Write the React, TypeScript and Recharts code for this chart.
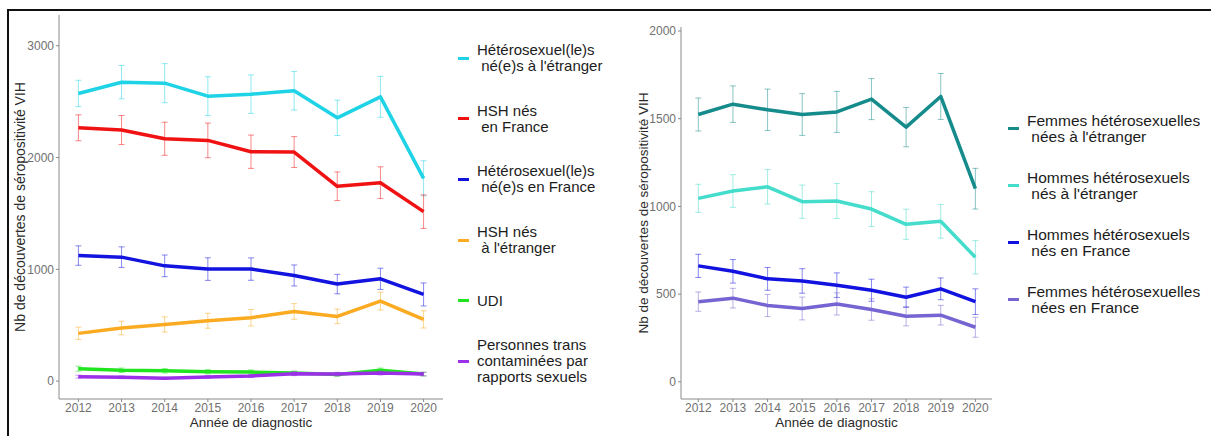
import { ErrorBar, Line, LineChart, XAxis, YAxis } from "recharts";

const years = [2012, 2013, 2014, 2015, 2016, 2017, 2018, 2019, 2020];

// panneau gauche : groupes de transmission
const heteroEtranger = [2573, 2674, 2665, 2549, 2567, 2597, 2355, 2543, 1814];
const heteroEtrangerErr = [118, 149, 175, 174, 172, 172, 158, 183, 157];
const hshFrance = [2266, 2246, 2168, 2153, 2052, 2049, 1743, 1775, 1516];
const hshFranceErr = [116, 130, 148, 155, 149, 138, 128, 142, 150];
const heteroFrance = [1123, 1109, 1031, 1002, 1002, 945, 868, 915, 775];
const heteroFranceErr = [87, 92, 97, 101, 100, 94, 87, 95, 103];
const hshEtranger = [427, 475, 507, 540, 567, 623, 579, 716, 552];
const hshEtrangerErr = [56, 61, 68, 67, 74, 70, 65, 80, 77];
const udi = [111, 97, 92, 84, 81, 72, 60, 97, 63];
const udiErr = [22, 20, 20, 19, 19, 18, 16, 20, 17];
const trans = [40, 34, 25, 37, 46, 66, 63, 72, 63];
const transErr = [13, 12, 10, 12, 14, 17, 16, 17, 16];

// panneau droit : hétérosexuels par sexe et pays de naissance
const femmesEtranger = [1524, 1583, 1551, 1524, 1539, 1612, 1452, 1627, 1101];
const femmesEtrangerErr = [94, 104, 118, 119, 117, 117, 112, 131, 116];
const hommesEtranger = [1046, 1088, 1112, 1027, 1031, 985, 898, 915, 710];
const hommesEtrangerErr = [80, 93, 98, 95, 100, 99, 86, 96, 95];
const hommesFrance = [661, 630, 587, 575, 551, 522, 482, 530, 457];
const hommesFranceErr = [66, 67, 65, 70, 70, 63, 58, 62, 73];
const femmesFrance = [457, 477, 435, 418, 444, 412, 374, 380, 311];
const femmesFranceErr = [55, 56, 63, 65, 63, 61, 55, 56, 57];

const leftTicks = [0, 1000, 2000, 3000];
const rightTicks = [0, 500, 1000, 1500, 2000];

const FONT = "'Liberation Sans', Arial, sans-serif";
const TICK = { fill: "#707070", fontSize: 12, fontFamily: FONT };
const AXIS = { stroke: "#8a8a8a", strokeWidth: 1 };
const Y_TITLE = "Nb de découvertes de séropositivité VIH";
const X_TITLE = "Année de diagnostic";

interface Serie {
  key: string;
  values: number[];
  err: number[];
  color: string;
  label: string[];
}

const leftSeries: Serie[] = [
  { key: "heteroEtranger", values: heteroEtranger, err: heteroEtrangerErr, color: "#1fd3e6", label: ["Hétérosexuel(le)s", " né(e)s à l'étranger"] },
  { key: "hshFrance", values: hshFrance, err: hshFranceErr, color: "#f01212", label: ["HSH nés", " en France"] },
  { key: "heteroFrance", values: heteroFrance, err: heteroFranceErr, color: "#1313e0", label: ["Hétérosexuel(le)s", " né(e)s en France"] },
  { key: "hshEtranger", values: hshEtranger, err: hshEtrangerErr, color: "#fbab22", label: ["HSH nés", " à l'étranger"] },
  { key: "udi", values: udi, err: udiErr, color: "#20e41e", label: ["UDI"] },
  { key: "trans", values: trans, err: transErr, color: "#9b30e8", label: ["Personnes trans", "contaminées par", "rapports sexuels"] },
];

const rightSeries: Serie[] = [
  { key: "femmesEtranger", values: femmesEtranger, err: femmesEtrangerErr, color: "#168b8b", label: ["Femmes hétérosexuelles", " nées à l'étranger"] },
  { key: "hommesEtranger", values: hommesEtranger, err: hommesEtrangerErr, color: "#44dccb", label: ["Hommes hétérosexuels", " nés à l'étranger"] },
  { key: "hommesFrance", values: hommesFrance, err: hommesFranceErr, color: "#1212e0", label: ["Hommes hétérosexuels", " nés en France"] },
  { key: "femmesFrance", values: femmesFrance, err: femmesFranceErr, color: "#7565d2", label: ["Femmes hétérosexuelles", " nées en France"] },
];

function buildRows(series: Serie[]) {
  return years.map((year, i) => {
    const row: Record<string, number> = { year };
    series.forEach((s) => {
      row[s.key] = s.values[i];
      row[s.key + "Err"] = s.err[i];
    });
    return row;
  });
}

function renderLines(series: Serie[]) {
  return series.map((s) => (
    <Line
      dataKey={s.key}
      dot={false}
      isAnimationActive={false}
      key={s.key}
      stroke={s.color}
      strokeLinejoin="round"
      strokeWidth={3.5}
      type="linear"
    >
      <ErrorBar dataKey={s.key + "Err"} stroke={s.color} strokeOpacity={0.5} strokeWidth={1} width={3} />
    </Line>
  ));
}

function LegendBlock({ series, left, top, itemHeight, fontSize }: { series: Serie[]; left: number; top: number; itemHeight: number; fontSize: number }) {
  return (
    <div style={{ position: "absolute", left, top, fontFamily: FONT, fontSize, color: "#1c1c1c" }}>
      {series.map((s) => (
        <div key={s.key} style={{ height: itemHeight, display: "flex", alignItems: "center" }}>
          <div style={{ width: 11, height: 3, background: s.color, marginRight: 8 }} />
          <div style={{ lineHeight: "16px", whiteSpace: "pre" }}>
            {s.label.map((line) => (
              <div key={line}>{line}</div>
            ))}
          </div>
        </div>
      ))}
    </div>
  );
}

export default function App() {
  const leftData = buildRows(leftSeries);
  const rightData = buildRows(rightSeries);

  return (
    <div style={{ position: "absolute", left: 0, top: 0, width: 1211, height: 436, background: "#fff", overflow: "hidden" }}>
      <div
        style={{
          position: "absolute",
          left: 7,
          top: 9,
          width: 1204,
          height: 427,
          borderTop: "2px solid #111",
          borderLeft: "2px solid #111",
          boxSizing: "border-box",
        }}
      />

      <div style={{ position: "absolute", left: 0, top: 0 }}>
        <LineChart data={leftData} height={436} margin={{ top: 15, right: 197, bottom: 0, left: 0 }} width={640}>
          <XAxis
            axisLine={AXIS}
            dataKey="year"
            domain={[2011.55, 2020.45]}
            height={37}
            label={{ value: X_TITLE, position: "insideBottom", offset: 9, style: { fontSize: 13.5, fill: "#2a2a2a", fontFamily: FONT } }}
            tick={TICK}
            tickLine={AXIS}
            tickMargin={1}
            tickSize={3}
            ticks={years}
            type="number"
          />
          <YAxis
            axisLine={AXIS}
            domain={[-160, 3275]}
            label={{ value: Y_TITLE, angle: -90, position: "insideLeft", offset: 20, style: { textAnchor: "middle", fontSize: 14, fill: "#2a2a2a", fontFamily: FONT } }}
            tick={TICK}
            tickLine={AXIS}
            tickMargin={2}
            tickSize={3}
            ticks={leftTicks}
            type="number"
            width={59}
          />
          {renderLines(leftSeries)}
        </LineChart>
      </div>
      <LegendBlock fontSize={15} itemHeight={60.6} left={458} series={leftSeries} top={28} />

      <div style={{ position: "absolute", left: 620, top: 0 }}>
        <LineChart data={rightData} height={436} margin={{ top: 27, right: 219, bottom: 0, left: 0 }} width={591}>
          <XAxis
            axisLine={AXIS}
            dataKey="year"
            domain={[2011.5, 2020.48]}
            height={37}
            label={{ value: X_TITLE, position: "insideBottom", offset: 9, style: { fontSize: 13.5, fill: "#2a2a2a", fontFamily: FONT } }}
            tick={TICK}
            tickLine={AXIS}
            tickMargin={1}
            tickSize={3}
            ticks={years}
            type="number"
          />
          <YAxis
            axisLine={AXIS}
            domain={[-98, 2023]}
            label={{ value: Y_TITLE, angle: -90, position: "insideLeft", offset: 23, style: { textAnchor: "middle", fontSize: 13.5, fill: "#2a2a2a", fontFamily: FONT } }}
            tick={TICK}
            tickLine={AXIS}
            tickMargin={2}
            tickSize={3}
            ticks={rightTicks}
            type="number"
            width={61}
          />
          {renderLines(rightSeries)}
        </LineChart>
      </div>
      <LegendBlock fontSize={15.5} itemHeight={57.1} left={1008} series={rightSeries} top={100} />
    </div>
  );
}
